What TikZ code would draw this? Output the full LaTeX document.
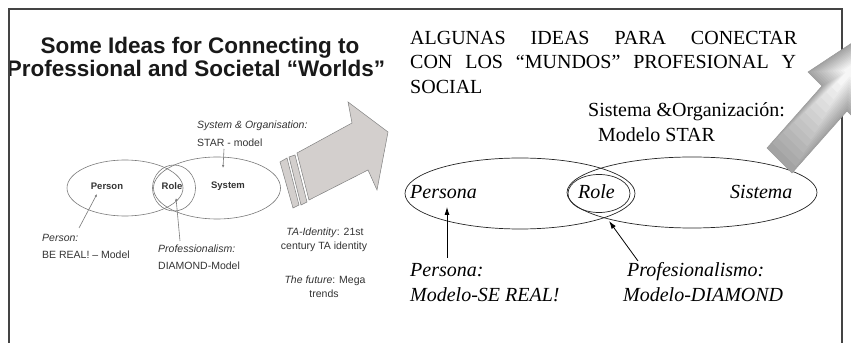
\documentclass[tikz,border=0pt]{standalone}
\usepackage{fontspec}
\setmainfont{Liberation Serif}
\newfontfamily\arialfont{Liberation Sans}
\usepackage{tikz}
\usetikzlibrary{shapes.geometric,arrows.meta}

\definecolor{framegray}{HTML}{444444}
\definecolor{txtgray}{HTML}{333333}
\definecolor{lightline}{HTML}{7A7A7A}
\definecolor{blockfill}{HTML}{D3CFCD}

\tikzset{
  hdr/.style = {anchor=base, inner sep=0pt, text=black!90,
                font=\arialfont\bfseries\fontsize{22.5}{26}\selectfont},
  small/.style = {anchor=base west, inner sep=0pt, text=txtgray,
                  font=\arialfont\fontsize{10.5}{12}\selectfont},
  smallc/.style = {small, anchor=base},
  smallbold/.style = {anchor=center, inner sep=0pt, text=txtgray,
                      font=\arialfont\bfseries\fontsize{9.5}{11}\selectfont},
  vennL/.style = {ellipse, draw=lightline, line width=0.6pt, inner sep=0pt},
  arrL/.style = {draw=lightline, line width=0.6pt, -{Latex[length=3pt,width=2.5pt]}},
  big/.style = {anchor=base west, inner sep=0pt, font=\fontsize{20}{24}\selectfont},
  bigit/.style = {big, font=\itshape\fontsize{20}{24}\selectfont},
  vennR/.style = {ellipse, draw=black!85, line width=0.7pt, inner sep=0pt},
  arrR/.style = {draw=black, line width=0.8pt, -{Latex[length=8pt,width=5pt]}}
}

\begin{document}
\begin{tikzpicture}[x=1pt, y=-1pt]
  \useasboundingbox (0,0) rectangle (851,344);

  % Left half: English slide
  \node[hdr] (title1) at (200,54) {Some Ideas for Connecting to};
  \node[hdr] (title2) at (196,77) {Professional and Societal “Worlds”};

  \node[vennL, minimum width=116pt, minimum height=56pt] (person) at (125,188) {};
  \node[vennL, minimum width=127pt, minimum height=62pt] (system) at (217,188) {};
  \node[vennL, minimum width=43pt, minimum height=46pt] (role) at (174,188) {};

  \node[smallbold] (personlbl) at (107,186) {Person};
  \node[smallbold] (rolelbl) at (172,186) {Role};
  \node[smallbold] (systemlbl) at (228,186) {System};

  \node[small] (sysorg) at (197,129) {\itshape System \& Organisation:};
  \node[small] (star) at (197,147) {STAR - model};
  \node[small] (personnote) at (42,242) {\itshape Person:};
  \node[small] (bereal) at (42,259) {BE REAL! – Model};
  \node[small] (profnote) at (158,253) {\itshape Professionalism:};
  \node[small] (diamond) at (158,270) {DIAMOND-Model};
  \node[smallc] (taid) at (325,236) {\textit{TA-Identity}: 21st};
  \node[smallc] (century) at (324,250) {century TA identity};
  \node[smallc] (future) at (325,284) {\textit{The future}: Mega};
  \node[smallc] (trends) at (324,298) {trends};

  % small pointers
  \coordinate (startail) at (224,149);
  \coordinate (starhead) at (223,168);
  \coordinate (persontail) at (79,228);
  \coordinate (personhead) at (97,194);
  \coordinate (proftail) at (180,241);
  \coordinate (profhead) at (176,198);
  \draw[arrL] (startail) -- (starhead);
  \draw[arrL] (persontail) -- (personhead);
  \draw[arrL] (proftail) -- (profhead);

  % block arrow with stripes
  \draw[fill=blockfill, draw=gray, line width=0.5pt]
    (280,162) -- (287,158) -- (299,205) -- (293,208) -- cycle;
  \draw[fill=blockfill, draw=gray, line width=0.5pt]
    (289,157) -- (295,155) -- (307,202) -- (301,205) -- cycle;
  \draw[fill=blockfill, draw=gray, line width=0.5pt]
    (297,153) -- (352,123) -- (348,102) -- (388,132) -- (377,190)
    -- (368,170) -- (309,200) -- cycle;

  % Right half: Spanish version
  \node[big] (tit1) at (410,45) {\makebox[387pt][s]{ALGUNAS IDEAS PARA CONECTAR}};
  \node[big] (tit2) at (410,69) {\makebox[386pt][s]{CON LOS “MUNDOS” PROFESIONAL Y}};
  \node[big] (tit3) at (410,94) {SOCIAL};
  \node[big] (sisorg) at (588,117) {Sistema \&Organización:};
  \node[big] (modstar) at (598,142) {Modelo STAR};

  \node[vennR, minimum width=230pt, minimum height=71pt] (persona) at (520,193.5) {};
  \node[vennR, minimum width=250pt, minimum height=71pt] (sistema) at (692,192.5) {};
  \node[vennR, minimum width=62pt, minimum height=38pt] (rolee) at (599,193.5) {};

  \node[bigit] (personalbl) at (410,199) {Persona};
  \node[bigit] (rolelblR) at (578,199) {Role};
  \node[bigit] (sistemalbl) at (730,199) {Sistema};

  \node[bigit] (personanote) at (410,277) {Persona:};
  \node[bigit] (sereal) at (410,302) {Modelo-SE REAL!};
  \node[bigit] (profesnote) at (627,277) {Profesionalismo:};
  \node[bigit] (diamante) at (623,302) {Modelo-DIAMOND};

  \coordinate (personatail) at (447,258);
  \coordinate (personahead) at (447,207);
  \coordinate (profestail) at (638,261);
  \coordinate (profeshead) at (609,221);
  \draw[arrR] (personatail) -- (personahead);
  \draw[arrR] (profestail) -- (profeshead);

  % Frame (open at the bottom)
  \draw[framegray, line width=1.2pt] (9,343) -- (9,9) -- (842,9) -- (842,343);

  % block arrow leaving the frame, shaded by hand
  \foreach \i in {0,...,13} {
    \pgfmathsetmacro\sc{1-\i*0.065}
    \pgfmathsetmacro\gr{72-\i*5}
    \fill[gray!\gr, scale around={\sc:(850,70)}]
      (767,148) -- (822,86) -- (808,72) -- (929,-8) -- (861,125)
      -- (847,111) -- (792,173) -- cycle;
  }
  \draw[gray!80, line width=0.5pt]
    (767,148) -- (822,86) -- (808,72) -- (929,-8) -- (861,125)
    -- (847,111) -- (792,173) -- cycle;
\end{tikzpicture}
\end{document}
